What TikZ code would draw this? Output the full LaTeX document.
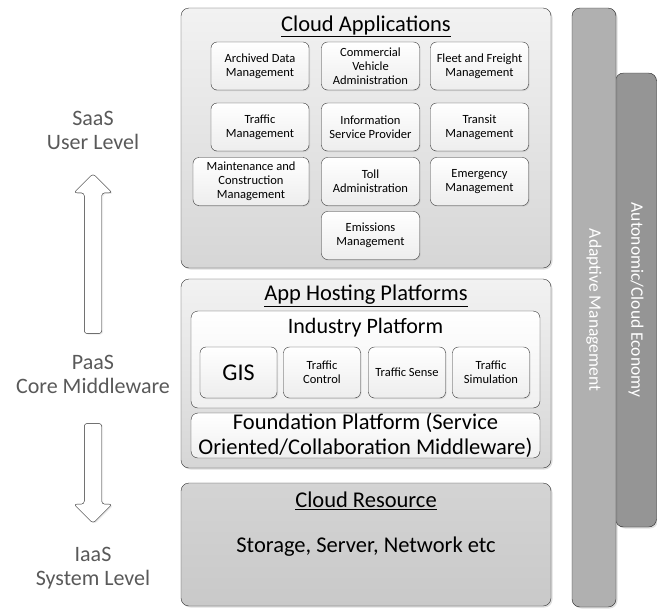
\documentclass[tikz,border=0pt]{standalone}
\usepackage{fontspec}
\setmainfont{Carlito}
\usepackage{tikz}
\usetikzlibrary{positioning, shapes.arrows, shadows}
\usepackage{xcolor}
\definecolor{layerlight}{HTML}{F2F2F2}
\definecolor{layerdark}{HTML}{D6D6D6}
\definecolor{resfill}{HTML}{C9C9C9}
\definecolor{mgmtgray}{HTML}{B0B0B0}
\definecolor{econgray}{HTML}{959595}
\definecolor{labelgray}{HTML}{595959}

\begin{document}
\begin{tikzpicture}[x=1pt, y=-1pt,
      layer/.style={draw=black!80, rounded corners=8pt, top color=layerlight, bottom color=layerdark, minimum width=370pt, drop shadow={opacity=0.25, shadow xshift=1.5pt, shadow yshift=-1.5pt}},
      inner/.style={draw=black!80, rounded corners=7pt, top color=white, bottom color=black!6, minimum width=349pt},
      app/.style={draw=black!80, rounded corners=6pt, top color=white, bottom color=black!7, minimum width=98pt, minimum height=48pt, align=center, font=\fontsize{12.5}{14}\selectfont, inner sep=1pt, drop shadow={opacity=0.2, shadow xshift=1pt, shadow yshift=-1pt}},
      plat/.style={app, minimum width=77pt, minimum height=51pt, font=\fontsize{12.5}{14}\selectfont},
      title/.style={font=\fontsize{22.5}{26}\selectfont},
      side/.style={text=labelgray, align=center, font=\fontsize{22}{24}\selectfont},
      bar/.style={draw=black!85, rounded corners=8pt, minimum width=44pt, drop shadow={opacity=0.25, shadow xshift=1.5pt, shadow yshift=-1.5pt}},
      bartext/.style={text=white, rotate=-90, font=\fontsize{17.5}{20}\selectfont},
      lift/.style={single arrow, draw=black!85, fill=white, rounded corners=3pt, inner xsep=0pt, inner ysep=8.5pt, single arrow head extend=10.5pt, single arrow tip angle=90, rotate=#1, drop shadow={opacity=0.15, shadow xshift=1.5pt, shadow yshift=-1pt}}]

    \useasboundingbox (0,0) rectangle (657,611);

    % management bars on the right
    \node[bar, fill=econgray, minimum width=41pt, minimum height=454pt] (econ) at (636,300) {};
    \node[bar, fill=mgmtgray, minimum height=599pt] (mgmt) at (594,307.5) {};
    \node[bartext] at (636,300) {Autonomic/Cloud Economy};
    \node[bartext] at (594,310) {Adaptive Management};

    % SaaS layer
    \node[layer, minimum height=260pt] (apps) at (366,138) {};
    \node[title] (appstitle) at (366,26) {\underline{Cloud Applications}};
    \node[app] (archive) at (260,66) {Archived Data\\Management};
    \node[app] (vehicle) at (370.5,66) {Commercial\\Vehicle\\Administration};
    \node[app] (fleet) at (479.5,66) {Fleet and Freight\\Management};
    \node[app] (traffic) at (260,127) {Traffic\\Management};
    \node[app] (info) at (370.5,127) {Information\\Service Provider};
    \node[app] (transit) at (479.5,127) {Transit\\Management};
    \node[app, minimum width=116pt] (maint) at (251,181.5) {Maintenance and\\Construction\\Management};
    \node[app] (toll) at (370.5,181.5) {Toll\\Administration};
    \node[app] (emerg) at (479.5,181.5) {Emergency\\Management};
    \node[app] (emiss) at (370.5,235.5) {Emissions\\Management};

    % PaaS layer
    \node[layer, minimum height=189pt] (hosting) at (366,373.5) {};
    \node[title] (hosttitle) at (366,296) {\underline{App Hosting Platforms}};
    \node[inner, minimum height=97pt] (industry) at (365.5,359.5) {};
    \node[title, font=\fontsize{22}{26}\selectfont] (indtitle) at (365.5,328) {Industry Platform};
    \node[plat, font=\fontsize{24}{26}\selectfont] (gis) at (238.5,372.5) {GIS};
    \node[plat] (tcontrol) at (322,372.5) {Traffic\\Control};
    \node[plat] (tsense) at (407,372.5) {Traffic Sense};
    \node[plat] (tsim) at (491,372.5) {Traffic\\Simulation};
    \node[inner, minimum height=45pt, align=center, inner sep=0pt, font=\fontsize{22.5}{25}\selectfont] (found) at (365.5,435.5) {Foundation Platform (Service\\Oriented/Collaboration Middleware)};

    % IaaS layer
    \node[layer, top color=resfill!80, bottom color=resfill, minimum height=123pt] (resource) at (366,544.5) {};
    \node[title] (restitle) at (366,501) {\underline{Cloud Resource}};
    \node[title] (storage) at (366,547) {Storage, Server, Network etc};

    % service levels on the left
    \node[side] (saas) at (93,130) {SaaS\\User Level};
    \node[side] (paas) at (93,374) {PaaS\\Core Middleware};
    \node[side] (iaas) at (93,568) {IaaS\\System Level};
    \node[lift=90, minimum height=160pt] (uparrow) at (93,258) {};
    \node[lift=-90, minimum height=100pt] (downarrow) at (93,469) {};
  \end{tikzpicture}
\end{document}
